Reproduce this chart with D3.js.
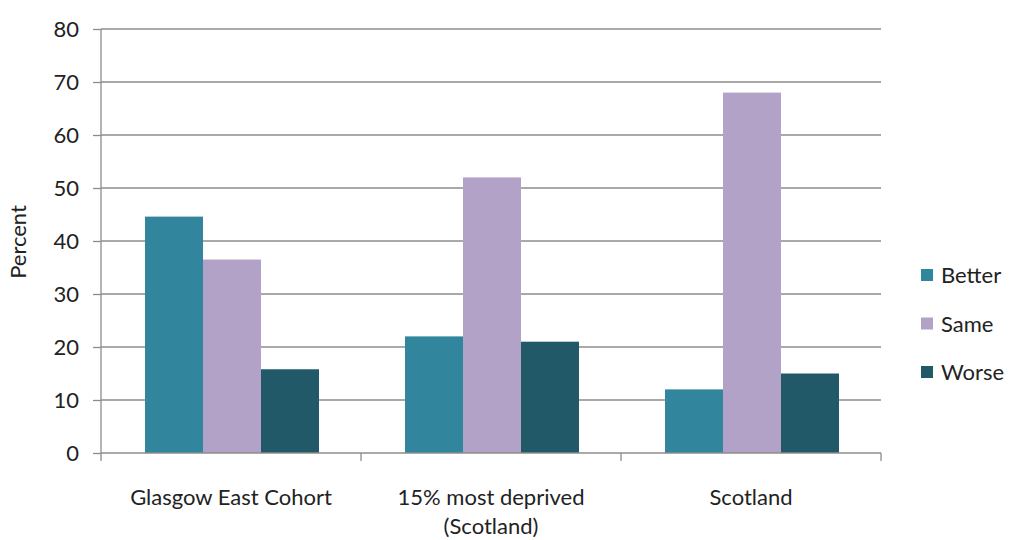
<!DOCTYPE html>
<html><head><meta charset="utf-8">
<script src="https://cdn.jsdelivr.net/npm/d3@7/dist/d3.min.js"></script>
<style>body{margin:0;background:#fff;} text{font-family:Lato, "Open Sans", sans-serif; fill:#222;}</style>
</head><body>
<svg id="c" width="1009" height="540"></svg>
<script>
const categories = [["Glasgow East Cohort"], ["15% most deprived", "(Scotland)"], ["Scotland"]];
const series = ["Better", "Same", "Worse"];
const better = [44.6, 22, 12];
const same = [36.5, 52, 68];
const worse = [15.8, 21, 15];
const yTicks = [0, 10, 20, 30, 40, 50, 60, 70, 80];
const colors = ["#31859C", "#B2A2C7", "#215968"];

(function () {
const values = [better, same, worse];
const svg = d3.select("#c");
const pL = 101, pR = 881, pT = 29, pB = 453;
const x = d3.scaleBand().domain(d3.range(categories.length)).range([pL, pR]);
const y = d3.scaleLinear().domain([0, 80]).range([pB, pT]);
const gridC = "#8c8c8c";

svg.append("g").selectAll("line").data(yTicks.filter(d => d > 0)).join("line")
  .attr("x1", pL).attr("x2", pR).attr("y1", d => y(d)).attr("y2", d => y(d))
  .attr("stroke", gridC).attr("stroke-width", 1.3);

const ya = svg.append("g").attr("transform", `translate(${pL},0)`)
  .call(d3.axisLeft(y).tickValues(yTicks).tickSize(8).tickPadding(14));
ya.select(".domain").attr("stroke", gridC).attr("stroke-width", 1.3).attr("d", `M0,${pT}V${pB}`);
ya.selectAll(".tick line").attr("stroke", gridC).attr("stroke-width", 1.3);
ya.selectAll(".tick text").style("font-size", "22px").attr("fill", "#222").style("font-family", "Lato, 'Open Sans', sans-serif");

const bw = 58;
series.forEach((s, si) => {
  svg.append("g").selectAll("rect").data(values[si]).join("rect")
    .attr("x", (d, i) => x(i) + 1 + (x.bandwidth() - 3 * bw) / 2 + si * bw)
    .attr("width", bw)
    .attr("y", d => y(d)).attr("height", d => pB - y(d))
    .attr("fill", colors[si]);
});

const xa = svg.append("g").attr("transform", `translate(0,${pB})`);
xa.append("line").attr("x1", pL).attr("x2", pR).attr("stroke", gridC).attr("stroke-width", 1.3);
xa.selectAll("line.t").data(d3.range(categories.length + 1)).join("line").attr("class", "t")
  .attr("x1", i => pL + i * x.bandwidth()).attr("x2", i => pL + i * x.bandwidth())
  .attr("y1", 0).attr("y2", 8).attr("stroke", gridC).attr("stroke-width", 1.3);
categories.forEach((lines, i) => {
  const t = xa.append("text").attr("text-anchor", "middle").style("font-size", "22px");
  lines.forEach((l, k) => t.append("tspan").attr("x", x(i) + x.bandwidth() / 2).attr("y", 52 + k * 29).text(l));
});

svg.append("text").attr("transform", "translate(26,242) rotate(-90)").attr("text-anchor", "middle")
  .style("font-size", "22px").text("Percent");

const lg = svg.append("g").attr("transform", "translate(921,0)");
series.forEach((s, i) => {
  const cy = 275 + i * 48.5;
  lg.append("rect").attr("x", 0).attr("y", cy - 6).attr("width", 12).attr("height", 12).attr("fill", colors[i]);
  lg.append("text").attr("x", 20).attr("y", cy + 8).style("font-size", "22px").text(s);
});
})();
</script>
</body></html>
